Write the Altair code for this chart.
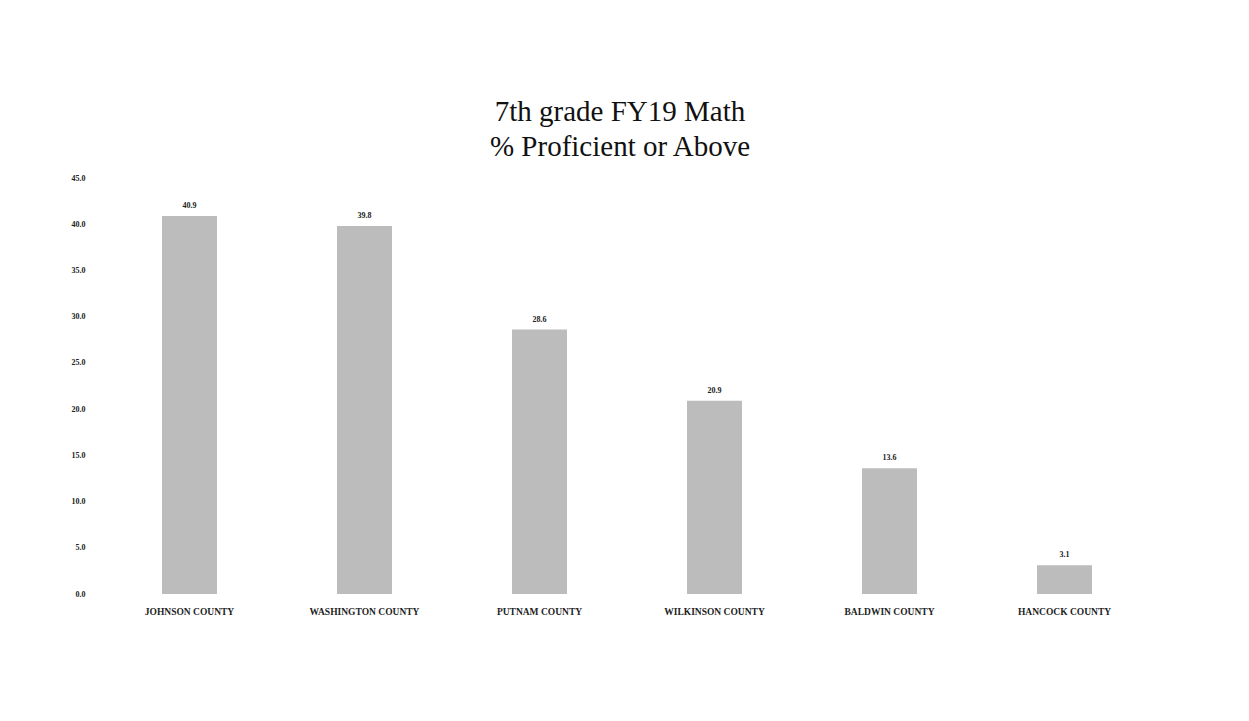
import altair as alt
import pandas as pd

counties = ["JOHNSON COUNTY", "WASHINGTON COUNTY", "PUTNAM COUNTY",
            "WILKINSON COUNTY", "BALDWIN COUNTY", "HANCOCK COUNTY"]
values = [40.9, 39.8, 28.6, 20.9, 13.6, 3.1]
y_ticks = [0, 5, 10, 15, 20, 25, 30, 35, 40, 45]

df = pd.DataFrame({"county": counties, "value": values})

serif = "Liberation Serif"

base = alt.Chart(df).encode(
    x=alt.X("county:N", sort=counties, title=None,
            axis=alt.Axis(labelAngle=0, labelFont=serif, labelFontSize=9.5,
                          labelFontWeight="bold", labelColor="#222",
                          domain=False, ticks=False, labelPadding=12)),
)

bars = base.mark_bar(color="#bcbcbc", width=55).encode(
    y=alt.Y("value:Q", title=None,
            scale=alt.Scale(domain=[0, 45], nice=False),
            axis=alt.Axis(values=y_ticks, format=".1f", labelFont=serif,
                          labelFontSize=8, labelFontWeight="bold",
                          labelColor="#222", domain=False, ticks=False,
                          grid=False, labelPadding=17))
)

labels = base.mark_text(dy=-10, font=serif, fontSize=8, fontWeight="bold",
                        color="#222").encode(
    y=alt.Y("value:Q"),
    text=alt.Text("value:Q", format=".1f"),
)

chart = (bars + labels).properties(
    width=1050, height=416,
    title=alt.TitleParams(["7th grade FY19 Math", "% Proficient or Above"],
                          font=serif, fontSize=29, fontWeight="normal",
                          color="#111", anchor="middle", offset=12, dx=-7,
                          lineHeight=35),
    autosize=alt.AutoSizeParams(type="none"),
    padding={"left": 94, "top": 170, "right": 89, "bottom": 110},
    background="white",
).configure_view(stroke=None)

chart.save("out.html", embed_options={"renderer": "svg", "actions": False})
